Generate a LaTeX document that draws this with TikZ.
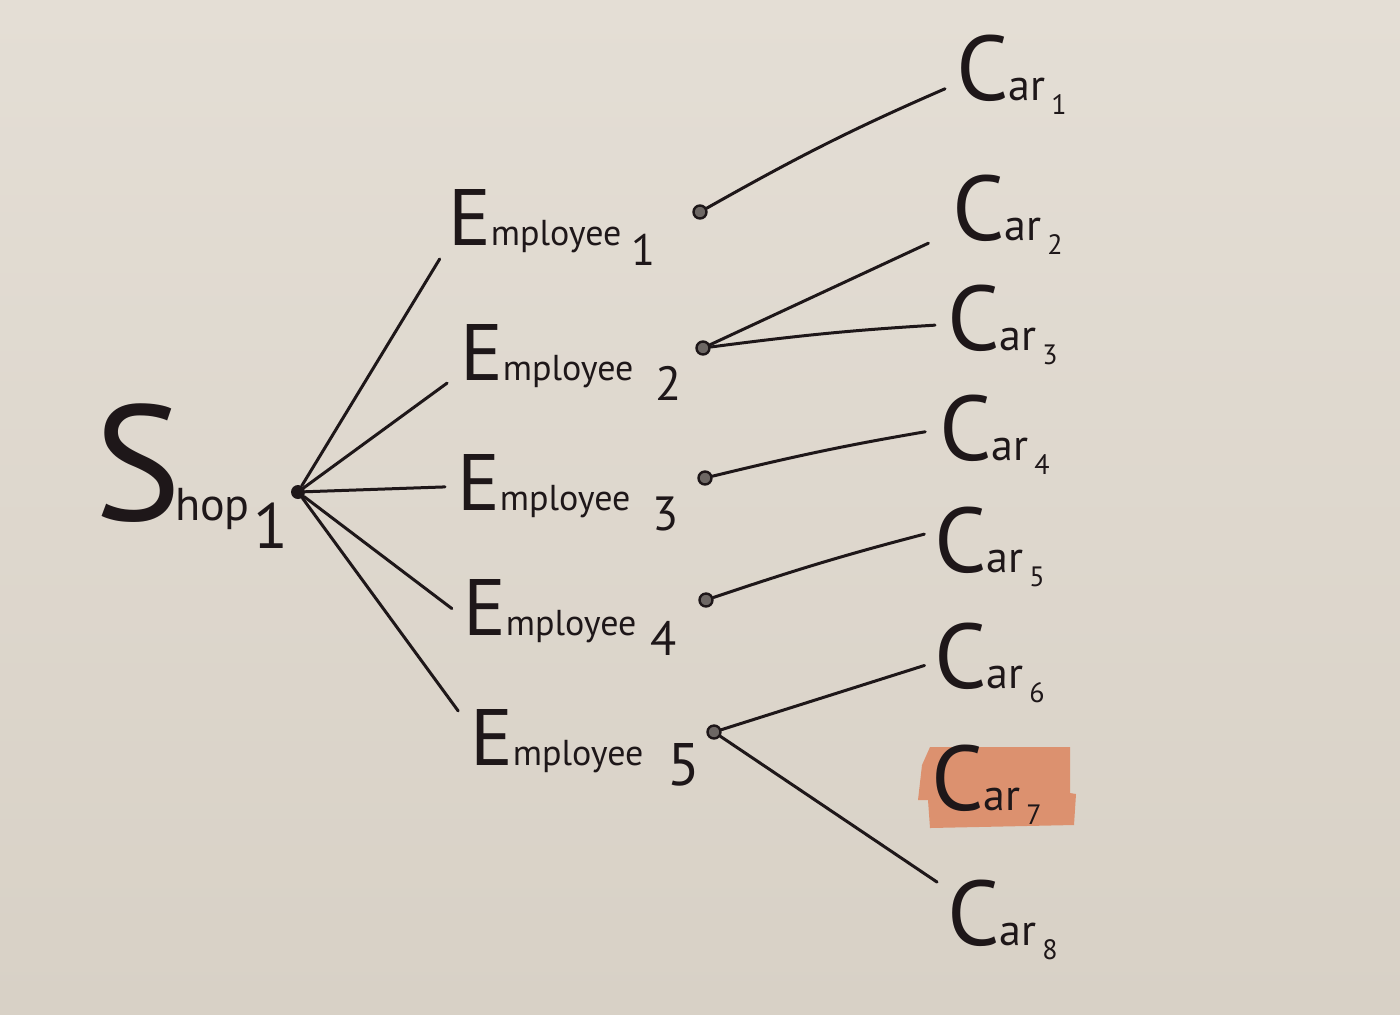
\documentclass[tikz,border=0pt]{standalone}
\usepackage{fontspec}
\setmainfont{PT Sans}
\definecolor{paperA}{HTML}{E4DED5}
\definecolor{paperB}{HTML}{D8D1C6}
\definecolor{inkc}{HTML}{1E1719}
\definecolor{marker}{HTML}{DC916F}
\newcommand\initial[2]{{\fontsize{#1}{#1}\selectfont #2}}
\newcommand\emp[3][5pt]{\initial{40}{E}{\fontsize{18}{18}\selectfont mployee}\hspace{#1}\raisebox{-10pt}{\fontsize{#3}{#3}\selectfont #2}}
\newcommand\car[1]{\initial{46}{C}{\fontsize{22}{22}\selectfont ar}\hspace{3pt}\raisebox{-7pt}{\fontsize{14}{14}\selectfont #1}}
\begin{document}
\begin{tikzpicture}[x=0.5pt,y=-0.5pt,
  ink/.style={draw=inkc, line width=1.5pt, line cap=round},
  lbl/.style={anchor=base west, inner sep=0pt, outer sep=0pt, text=inkc},
  hubdot/.style={circle, fill=inkc, inner sep=0pt, minimum size=7pt},
  edot/.style={circle, draw=inkc, fill=inkc!60!paperA, line width=1.2pt, inner sep=0pt, minimum size=6.5pt}]
\fill[top color=paperA, bottom color=paperB] (0,0) rectangle (1400,1014);
\useasboundingbox (0,0) rectangle (1400,1014);

% highlight behind Car 7
\fill[marker] (930,747) -- (1070,747) -- (1070,793) -- (1076,794) -- (1074,825)
  -- (930,828) -- (928,800) -- (918,800) -- (922,765) -- cycle;

% Shop
\node[lbl] (shop) at (94,520) {\initial{82}{S}\kern-3pt{\fontsize{23}{23}\selectfont hop}\hspace{2pt}\raisebox{-14pt}{\fontsize{32}{32}\selectfont 1}};
\node[hubdot] (s) at (298,492) {};

% Employees
\node[lbl] (e1) at (448,245) {\emp{1}{22}};
\node[lbl] (e2) at (460,380) {\emp[11pt]{2}{24}};
\node[lbl] (e3) at (457,510) {\emp[11pt]{3}{24}};
\node[lbl] (e4) at (463,635) {\emp[7pt]{4}{24}};
\node[lbl] (e5) at (470,765) {\emp[12pt]{5}{30}};

\node[edot] (d1) at (700,212) {};
\node[edot] (d2) at (703,348) {};
\node[edot] (d3) at (705,478) {};
\node[edot] (d4) at (706,600) {};
\node[edot] (d5) at (714,732) {};

% Cars
\node[lbl] (c1) at (956,100) {\car{1}};
\node[lbl] (c2) at (952,240) {\car{2}};
\node[lbl] (c3) at (947,350) {\car{3}};
\node[lbl] (c4) at (939,460) {\car{4}};
\node[lbl] (c5) at (934,572) {\car{5}};
\node[lbl] (c6) at (934,688) {\car{6}};
\node[lbl] (c7) at (931,810) {\car{7}};
\node[lbl] (c8) at (947,945) {\car{8}};

% Shop -> employees
\draw[ink, shorten >=8pt] (s) -- (e1.190);
\draw[ink, shorten >=8pt] (s) -- (e2.186);
\draw[ink, shorten >=6pt] (s) -- (e3.177);
\draw[ink, shorten >=7pt] (s) -- (e4.west);
\draw[ink, shorten >=10pt] (s) -- (e5.170);

% employees -> cars
\draw[ink, shorten >=6pt] (d1) to[bend left=3] (c1.190);
\draw[ink, shorten >=13pt] (d2) -- (c2.198);
\draw[ink, shorten >=6pt] (d2) to[bend left=2] (c3.west);
\draw[ink, shorten >=7pt] (d3) to[bend left=2] (c4.175);
\draw[ink, shorten >=5pt] (d4) to[bend left=2] (c5.165);
\draw[ink, shorten >=5pt] (d5) -- (c6.west);
\draw[ink, shorten >=6pt] (d5) -- (c8.151);
\end{tikzpicture}
\end{document}
